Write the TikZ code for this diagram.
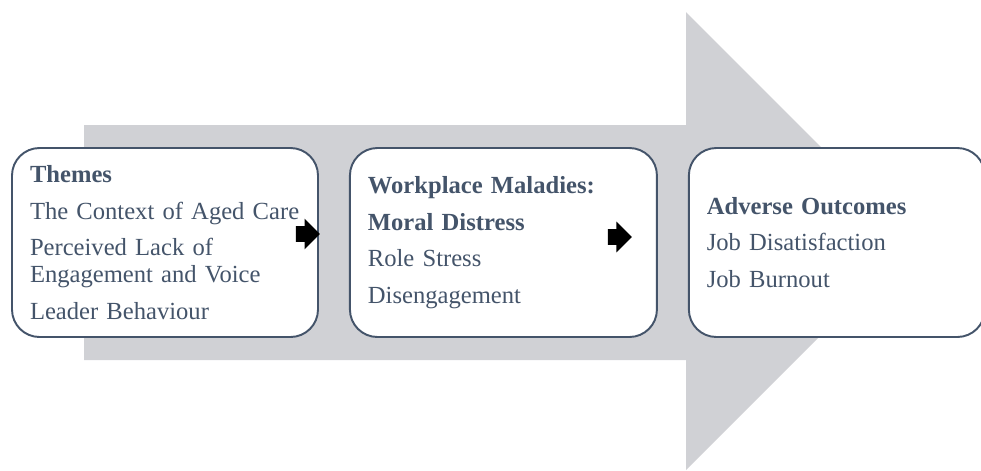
\documentclass[tikz,border=0pt]{standalone}
\usepackage{fontspec}
\setmainfont{Liberation Serif}
\usetikzlibrary{positioning,shapes.arrows}
\definecolor{slate}{HTML}{44546A}
\definecolor{arrowgrey}{HTML}{D0D1D5}
\newcommand{\pgap}{\\[5.4pt]}
\tikzset{
  box/.style={draw=slate,line width=1.1pt,fill=white,rounded corners=0.55cm,
    text=slate,align=left,inner xsep=0.36cm,inner ysep=0pt,
    minimum height=3.78cm,font=\fontsize{14}{15.4}\selectfont},
  blockarrow/.style={single arrow,fill=black,inner xsep=0pt,inner ysep=0.15cm,
    minimum height=0.48cm,single arrow head extend=0.15cm}
}
\begin{document}
\begin{tikzpicture}
\useasboundingbox (0,0) rectangle (19.62,-9.4);
\fill[arrowgrey] (1.68,-2.5) -- (13.72,-2.5) -- (13.72,-0.24) -- (18.3,-4.82)
  -- (13.72,-9.4) -- (13.72,-7.2) -- (1.68,-7.2) -- cycle;

\node[box,text width=5.4cm] (T) at (3.3,-4.85)
  {\textbf{Themes}\pgap The Context of Aged Care\pgap Perceived Lack of\\Engagement and Voice\pgap Leader Behaviour};
\node[box,text width=5.42cm] (M) [right=0.6cm of T]
  {\textbf{Workplace Maladies:}\pgap\textbf{Moral Distress}\pgap Role Stress\pgap Disengagement};
\node[box,text width=5.2cm] (O) [right=0.6cm of M]
  {\textbf{Adverse Outcomes}\pgap Job Disatisfaction\pgap Job Burnout};

\node[blockarrow] (TM) at ([xshift=-0.3cm,yshift=0.17cm]T.east) {};
\node[blockarrow] (MO) at ([xshift=-0.84cm,yshift=0.11cm]M.east) {};
\end{tikzpicture}
\end{document}
